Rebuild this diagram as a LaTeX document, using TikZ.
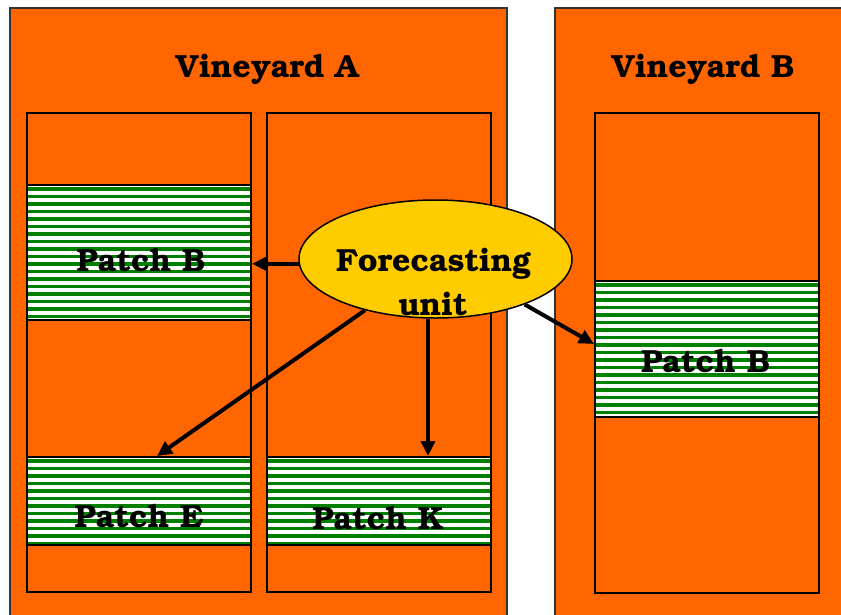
\documentclass[tikz,border=0pt]{standalone}
\usepackage[T1]{fontenc}
\usepackage{bookman}
\usetikzlibrary{arrows.meta,shapes.geometric}
\definecolor{vorange}{HTML}{FF6600}
\definecolor{vgreen}{HTML}{008000}
\definecolor{vyellow}{HTML}{FFCC00}
\begin{document}
\begin{tikzpicture}[x=1pt,y=-1pt,
 vineyard/.style={draw=black!80, line width=2pt, fill=vorange},
 column/.style={draw=black, line width=2.5pt, fill=vorange, rectangle, inner sep=0pt, minimum width=224pt},
 patch/.style={draw=black, line width=2pt, fill=white, rectangle, inner sep=0pt, minimum width=224pt,
   path picture={\foreach \k in {0,...,20}{\fill[vgreen] ([yshift=-\k*7.5pt-2pt]path picture bounding box.north west) rectangle ([yshift=-\k*7.5pt-5.5pt]path picture bounding box.north east);}}},
 lbl/.style={font=\fontsize{32}{36}\selectfont\bfseries, anchor=base, inner sep=0pt},
 arr/.style={line width=4pt, -{Triangle[length=15pt,width=14pt]}}
]
\useasboundingbox (0,0) rectangle (841,614);
\clip (0,0) rectangle (841,614);
\fill[white] (0,0) rectangle (841,614);
% vineyards
\path[vineyard] (10,8) rectangle (507,640);
\path[vineyard] (555,8) rectangle (860,640);
\node[lbl] (tA) at (267,77) {Vineyard A};
\node[lbl] (tB) at (703,77) {Vineyard B};
% columns
\node[column, minimum height=479pt] (cA1) at (139,352.5) {};
\node[column, minimum height=479pt] (cA2) at (379,352.5) {};
\node[column, minimum height=480pt] (cB) at (707,353) {};
% patches
\node[patch, minimum height=135pt] (pB) at (139,252.5) {};
\node[patch, minimum height=88pt] (pE) at (139,501) {};
\node[patch, minimum height=88pt] (pK) at (379,501) {};
\node[patch, minimum height=136pt] (pB2) at (707,349) {};
\node[lbl] (lB) at (141,271) {Patch B};
\node[lbl] (lE) at (139,527) {Patch E};
\node[lbl] (lK) at (378,529) {Patch K};
\node[lbl] (lB2) at (705.5,372) {Patch B};
% forecasting unit
\node[ellipse, draw, line width=1.5pt, fill=vyellow, minimum width=273pt, minimum height=118pt, inner sep=0pt] (fu) at (435.5,259) {};
\draw[arr] (fu.182) -- (fu.182 -| pB.east);
\draw[arr] (fu.216) -- ([xshift=18pt]pE.north);
\draw[arr] ([xshift=-7.5pt]fu.south) -- ([xshift=-7.5pt]fu.south |- pK.north);
\draw[arr] (fu.333) -- ([yshift=5pt]pB2.west);
\node[lbl] (fu1) at (433.5,271) {Forecasting};
\node[lbl] (fu2) at (433,315) {unit};
\end{tikzpicture}
\end{document}
